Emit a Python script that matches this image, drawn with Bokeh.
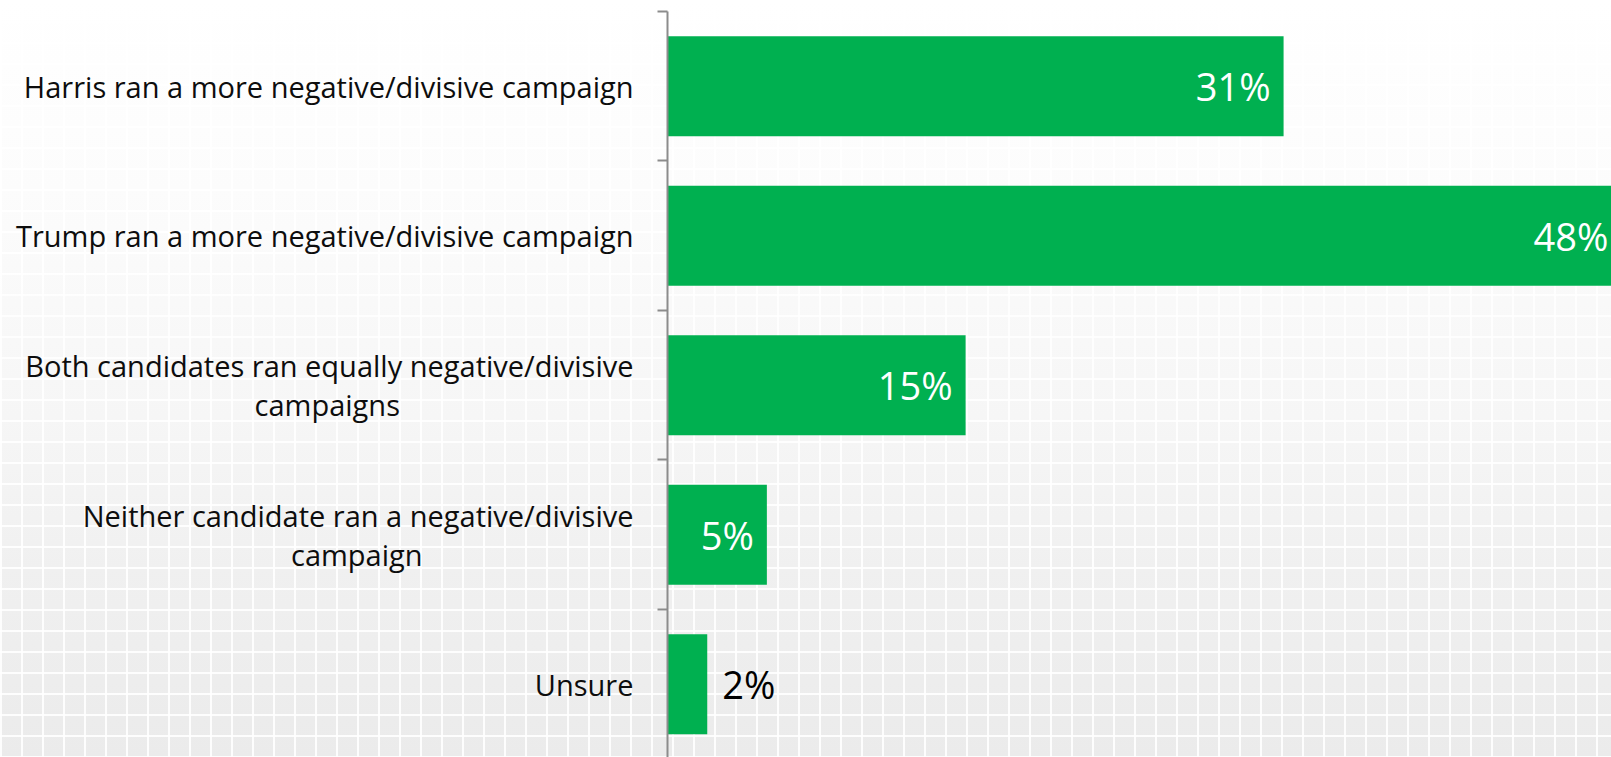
from bokeh.plotting import figure
from bokeh.models import Range1d, FixedTicker, ColumnDataSource
from bokeh.core.properties import value
from bokeh.embed import file_html
from bokeh.resources import INLINE

# ---- data ----
categories = [
    "Harris ran a more negative/divisive campaign",
    "Trump ran a more negative/divisive campaign",
    "Both candidates ran equally negative/divisive\ncampaigns",
    "Neither candidate ran a negative/divisive\ncampaign",
    "Unsure",
]
values = [31, 48, 15, 5, 2]
value_labels = ["31%", "48%", "15%", "5%", "2%"]

# second lines of wrapped labels are centred under the first line
NBSP = "\u00a0"
pad = {2: 31, 3: 28}
axis_labels = [c + NBSP * pad.get(i, 0) for i, c in enumerate(categories)]

# ---- layout helpers ----
n = len(categories)
ypos = [n - 1 - i for i in range(n)]          # first category at top
inside = [v >= 3 for v in values]              # small bars get label outside
label_color = ["white" if i else "black" for i in inside]
label_align = ["right" if i else "left" for i in inside]
label_off = [-13 if i else 15 for i in inside]

source = ColumnDataSource(dict(
    y=ypos, v=values, lab=value_labels,
    col=label_color, align=label_align, off=label_off,
))

FONT = "Open Sans"
GREEN = "#00B050"
AXIS = "#8c8c8c"

p = figure(
    width=1611, height=757,
    x_range=Range1d(0, 47.5),
    y_range=Range1d(-0.49, 4.5),
    output_backend="svg", toolbar_location=None,
    min_border_left=667, min_border_right=0,
    min_border_top=11, min_border_bottom=0,
)
p.outline_line_color = None
p.background_fill_color = None
p.border_fill_color = None
p.styles = {
    "background-color": "white",
    "background-image": (
        "linear-gradient(to right, rgba(255,255,255,0.9) 2px, transparent 2px), "
        "linear-gradient(to bottom, rgba(255,255,255,0.9) 2px, transparent 2px), "
        "linear-gradient(to bottom, #ffffff 0%, #fcfcfc 25%, #f6f6f6 55%, "
        "#f0f0f0 75%, #ebebeb 100%)"
    ),
    "background-size": "21px 21px, 21px 21px, 100% 100%",
}
p.grid.visible = False
p.xaxis.visible = False

p.hbar(y="y", right="v", left=0, height=0.67, source=source,
       fill_color=GREEN, line_color=None)

p.text(x="v", y="y", text="lab", source=source,
       text_color="col", text_align="align", x_offset="off",
       text_baseline="middle", text_font=value(FONT),
       text_font_size="38px")

ax = p.yaxis[0]
ax.ticker = FixedTicker(ticks=ypos,
                        minor_ticks=[y + 0.5 for y in ypos] + [min(ypos) - 0.5])
ax.major_label_overrides = {y: c for y, c in zip(ypos, axis_labels)}
ax.major_tick_out = 0
ax.major_tick_in = 0
ax.minor_tick_out = 10
ax.minor_tick_in = 0
ax.minor_tick_line_color = AXIS
ax.minor_tick_line_width = 2
ax.axis_line_color = AXIS
ax.axis_line_width = 2
ax.major_label_standoff = 24
ax.major_label_text_font = FONT
ax.major_label_text_font_size = "29px"
ax.major_label_text_line_height = 1.0
ax.major_label_text_color = "#0d0d0d"

open("out.html", "w").write(file_html(p, INLINE))
